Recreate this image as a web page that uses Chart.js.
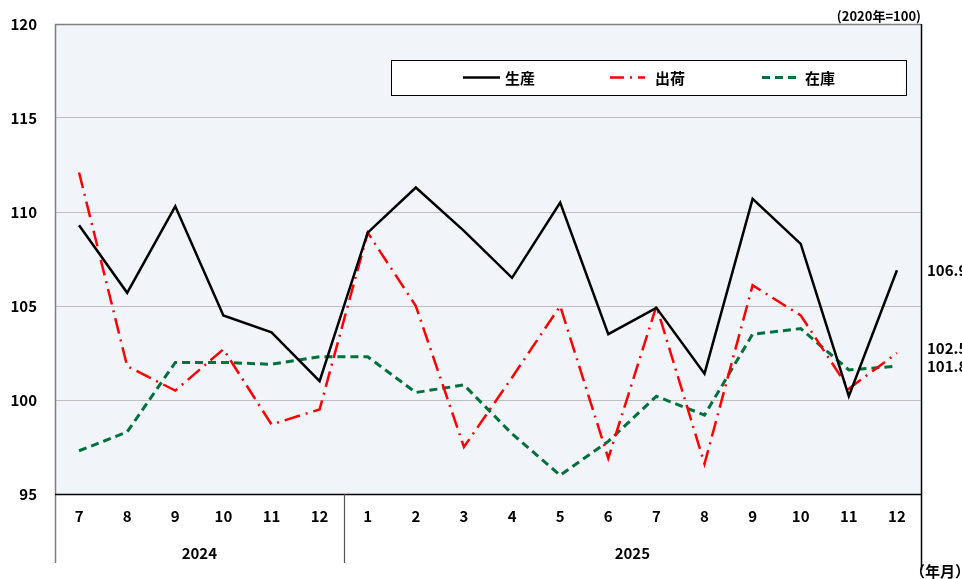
<!DOCTYPE html>
<html><head><meta charset="utf-8">
<script src="https://cdn.jsdelivr.net/npm/chart.js@4/dist/chart.umd.min.js"></script>
<style>html,body{margin:0;padding:0;background:#fff;}#wrap{width:962px;height:579px;position:relative;}</style>
</head><body><div id="wrap"><canvas id="c" width="962" height="579"></canvas></div>
<script>
const categories = ['7','8','9','10','11','12','1','2','3','4','5','6','7','8','9','10','11','12'];
const yearLabels = ['2024','2025'];
const yearSpans = [6,12];
const production = [109.3,105.7,110.3,104.5,103.6,101.0,108.9,111.3,109.0,106.5,110.5,103.5,104.9,101.4,110.7,108.3,100.2,106.9];
const shipments  = [112.1,101.8,100.5,102.7,98.7,99.5,108.9,105.0,97.5,101.2,105.0,96.9,105.0,96.6,106.1,104.5,100.6,102.5];
const inventory  = [97.3,98.3,102.0,102.0,101.9,102.3,102.3,100.4,100.8,98.2,96.0,97.8,100.2,99.2,103.5,103.8,101.6,101.8];
const seriesNames = ['生産','出荷','在庫'];
const yTicks = [95,100,105,110,115,120];
const unitText = '(2020年=100)';
const axisUnitText = '（年月）';

const FONT = "'Noto Sans CJK JP','Noto Sans',sans-serif";

const decor = {
  id:'decor',
  beforeDraw(chart){
    const {ctx, chartArea:a} = chart;
    ctx.save();
    ctx.fillStyle = '#F1F5FA';
    ctx.fillRect(a.left, a.top, a.right-a.left, a.bottom-a.top);
    ctx.restore();
  },
  afterDraw(chart){
    const {ctx, chartArea:a, scales} = chart;
    const x = scales.x, y = scales.y;
    ctx.save();
    // borders
    ctx.lineWidth = 1.5;
    ctx.strokeStyle = '#7F7F7F';
    ctx.beginPath();
    ctx.moveTo(a.left+0.5, 563); ctx.lineTo(a.left+0.5, a.top+0.5); ctx.lineTo(a.right, a.top+0.5);
    ctx.stroke();
    ctx.strokeStyle = '#000';
    ctx.lineWidth = 1.5;
    ctx.beginPath();
    ctx.moveTo(a.right+0.5, a.top); ctx.lineTo(a.right+0.5, 570);
    ctx.moveTo(a.left, a.bottom+0.5); ctx.lineTo(a.right, a.bottom+0.5);
    ctx.stroke();
    // year separators and labels
    ctx.fillStyle = '#000';
    ctx.font = "600 15px " + FONT;
    ctx.textAlign = 'center'; ctx.textBaseline = 'middle';
    let start = 0;
    const half = (x.getPixelForValue(1) - x.getPixelForValue(0))/2;
    yearLabels.forEach((lab,i)=>{
      const end = start + yearSpans[i] - 1;
      const l = x.getPixelForValue(start) - half;
      const r = x.getPixelForValue(end) + half;
      ctx.fillText(lab, (l+r)/2, 553);
      if (i > 0) {
        ctx.strokeStyle = '#555'; ctx.lineWidth = 1.2;
        ctx.beginPath(); ctx.moveTo(Math.round(l)+0.5, a.bottom); ctx.lineTo(Math.round(l)+0.5, 563); ctx.stroke();
      }
      start = end + 1;
    });
    // unit texts
    ctx.font = "700 13px " + FONT;
    ctx.textAlign = 'right';
    ctx.fillText(unitText, a.right, 16);
    ctx.font = "700 15px " + FONT;
    ctx.textAlign = 'left';
    ctx.fillText(axisUnitText, 910, 571);
    // legend
    const lx = 391, ly = 60, lw = 515, lh = 35;
    ctx.fillStyle = '#fff';
    ctx.fillRect(lx, ly, lw, lh);
    ctx.strokeStyle = '#000'; ctx.lineWidth = 1;
    ctx.strokeRect(lx+0.5, ly+0.5, lw, lh);
    const items = [{x1:463,x2:500,tx:505},{x1:610,x2:645,tx:655},{x1:762,x2:800,tx:805}];
    chart.data.datasets.forEach((ds,i)=>{
      const it = items[i];
      ctx.strokeStyle = ds.borderColor; ctx.lineWidth = ds.borderWidth;
      ctx.setLineDash(i===1 ? [14,6,2,6] : (ds.borderDash||[]));
      ctx.beginPath(); ctx.moveTo(it.x1, ly+lh/2); ctx.lineTo(it.x2, ly+lh/2); ctx.stroke();
      ctx.setLineDash([]);
      ctx.fillStyle = '#000';
      ctx.font = "700 15px " + FONT;
      ctx.textAlign = 'left'; ctx.textBaseline='middle';
      ctx.fillText(ds.label, it.tx, ly+lh/2+1);
    });
    // right end value labels
    const lastIdx = categories.length-1;
    let labs = chart.data.datasets.map(ds=>({v:ds.data[lastIdx], py:y.getPixelForValue(ds.data[lastIdx])}));
    labs.sort((p,q)=>p.py-q.py);
    for (let k=1;k<labs.length;k++){
      const gap = labs[k].py - labs[k-1].py;
      if (gap < 18){ const mid=(labs[k].py+labs[k-1].py)/2; labs[k-1].py = mid-9-2; labs[k].py = mid+9-2; }
    }
    ctx.font = "600 15px " + FONT;
    ctx.fillStyle = '#000';
    ctx.textAlign='left';
    labs.forEach(o=>ctx.fillText(o.v.toFixed(1), 927, o.py));
    ctx.restore();
  }
};

new Chart(document.getElementById('c'), {
  type:'line',
  data:{
    labels: categories,
    datasets:[
      {label:seriesNames[0], data:production, borderColor:'#000000', borderWidth:2.5, pointRadius:0, tension:0, fill:false},
      {label:seriesNames[1], data:shipments, borderColor:'#FF0000', borderWidth:2.5, borderDash:[16,6,2,6], pointRadius:0, tension:0, fill:false},
      {label:seriesNames[2], data:inventory, borderColor:'#00703C', borderWidth:3, borderDash:[8,5], pointRadius:0, tension:0, fill:false}
    ]
  },
  options:{
    responsive:false, animation:false,
    layout:{padding:{left:0, top:24, right:41, bottom:0}},
    plugins:{legend:{display:false}, tooltip:{enabled:false}},
    scales:{
      x:{
        offset:true,
        grid:{display:false, drawTicks:false},
        border:{display:false},
        ticks:{color:'#000', font:{family:FONT, size:15, weight:'600'}, padding:13, maxRotation:0, autoSkip:false},
        afterFit(s){ s.height = 85; s.paddingLeft = 0; s.paddingRight = 0; }
      },
      y:{
        min:95, max:120,
        afterBuildTicks(s){ s.ticks = yTicks.map(v=>({value:v})); },
        grid:{drawTicks:false, lineWidth:1, color:(c)=> (c.tick && (c.tick.value===95 || c.tick.value===120)) ? 'rgba(0,0,0,0)' : '#BFBFBF'},
        border:{display:false},
        ticks:{color:'#000', font:{family:FONT, size:15, weight:'600'}, padding:18},
        afterFit(s){ s.width = 55; s.paddingTop = 0; s.paddingBottom = 0; }
      }
    }
  },
  plugins:[decor]
});
</script></body></html>
